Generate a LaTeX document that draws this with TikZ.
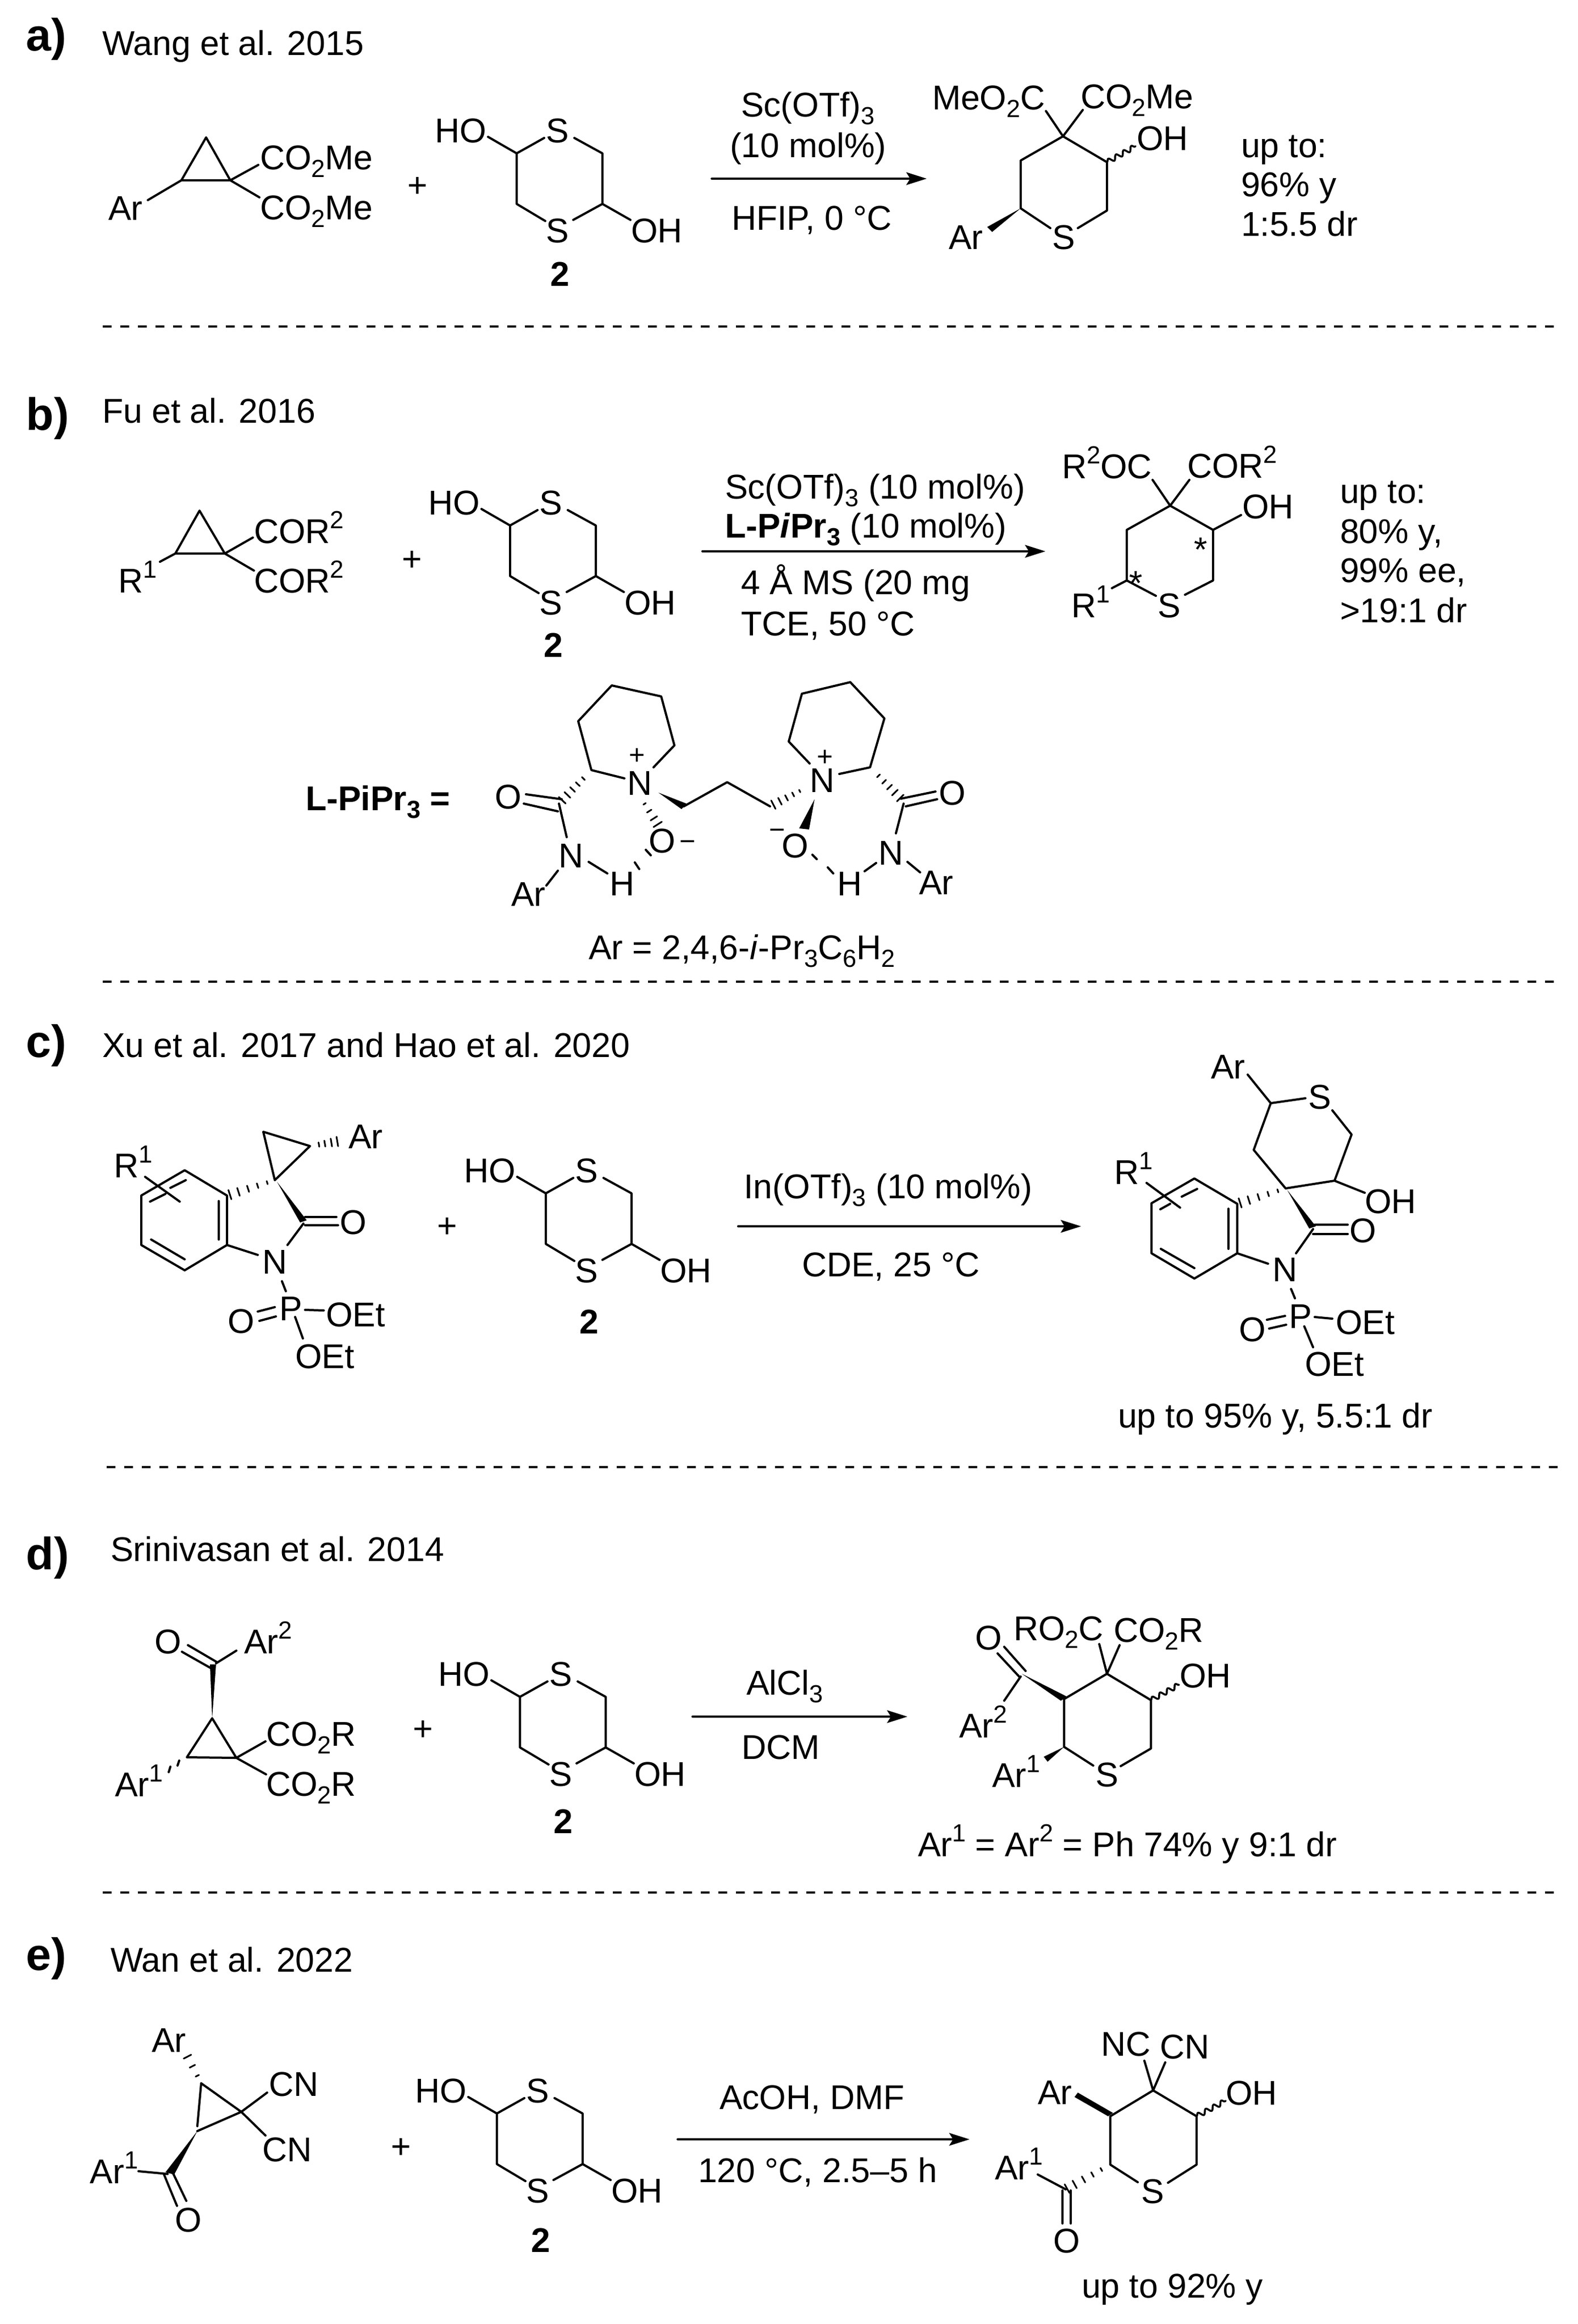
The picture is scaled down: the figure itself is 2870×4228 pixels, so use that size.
\documentclass[tikz,border=0pt]{standalone}
\usepackage{fontspec}
\setmainfont{Liberation Sans}
\usetikzlibrary{calc,arrows.meta,decorations.pathmorphing}
\newcommand{\sbs}[1]{\raisebox{-0.23em}{\fontsize{9}{10}\selectfont #1}}
\newcommand{\sps}[1]{\raisebox{0.42em}{\fontsize{9}{10}\selectfont #1}}
\newcommand{\hashbond}[3]{%
  \foreach \pos in {#3} {
    \pgfmathsetmacro\hw{0.35+1.5*\pos}
    \draw[line width=0.6pt] ($(#1)!\pos!(#2)!\hw pt!90:(#2)$)--($(#1)!\pos!(#2)!\hw pt!-90:(#2)$);
  }}
\tikzset{
  bond/.style={line width=0.8pt},
  atom/.style={inner sep=0pt,outer sep=0pt,anchor=base west,xshift=-0.8pt},
  panel/.style={atom,xshift=0.8pt,font=\fontsize{16.5}{20}\selectfont\bfseries},
  small/.style={inner sep=0pt,outer sep=0pt,anchor=center,font=\fontsize{10}{12}\selectfont},
  rxn/.style={line width=0.8pt,-{Stealth[length=7.4pt,width=4.6pt,inset=1.4pt]}},
  sep/.style={line width=0.8pt,dash pattern=on 3.2pt off 3.2pt,line cap=butt},
  wavy/.style={line width=0.7pt,decorate,decoration={snake,amplitude=0.9pt,segment length=3.2pt}},
  dithiane/.pic={
    \foreach \n/\x/\y in {c1/-77/-46,c2/79/-46,c3/79/46,c4/-77/46,e1/-129/-76,e2/-27/-74,e3/28/-74,e4/-25/77,e5/26/75,e6/130/75}
      \coordinate (\n) at (\x,\y);
    \foreach \n/\x/\y/\lab in {HO/-222/-66/HO,S1/-20/-66/S,S2/-20/116/S,OH/135/116/OH}
      \node[atom] (\n) at (\x,\y) {\lab};
    \draw[bond] (e1)--(c1)--(e2) (e3)--(c2)--(c3)--(e5) (c3)--(e6) (e4)--(c4)--(c1);
  }
}
\begin{document}
\begin{tikzpicture}[x=0.2pt,y=-0.2pt,line join=round,line cap=round,font=\fontsize{12.5}{15}\selectfont]
\useasboundingbox (0,0) rectangle (2870,4228);
\foreach \n/\x/\y in {La/187/594,Ra/2830/594,Lb/187/1786,Rb/2830/1786,Lc/194/2669,Rc/2834/2669,Ld/187/3443,Rd/2830/3443}
  \coordinate (\n) at (\x,\y);
\draw[sep] (La)--(Ra);
\draw[sep] (Lb)--(Rb);
\draw[sep] (Lc)--(Rc);
\draw[sep] (Ld)--(Rd);
\pic (a) at (1017,325) {dithiane};
\pic (b) at (1005,1002) {dithiane};
\pic (c) at (1070,2217) {dithiane};
\pic (d) at (1023,3133) {dithiane};
\pic (e) at (981,3891) {dithiane};
\node[panel] (pa) at (48,92) {a)};
\node[panel] (pb) at (48,782) {b)};
\node[panel] (pc) at (48,1923) {c)};
\node[panel] (pd) at (48,2855) {d)};
\node[panel] (pe) at (48,3584) {e)};
% panel a
\foreach \n/\x/\y/\lab in {aRef/190/100/{Wang et al. 2015},aAr/201/400/Ar,aE1/477/308/{CO\sbs{2}Me},aE2/477/399/{CO\sbs{2}Me},aPlus/745/358/+,aTwo/1005/520/\textbf{2},
  aR1/1352/212/{Sc(OTf)\sbs{3}},aR2/1332/286/{(10 mol\%)},aR3/1335/418/{HFIP,  0 °C},
  aMe/1700/199/{MeO\sbs{2}C},aE3/1970/197/{CO\sbs{2}Me},aOH/2072/273/OH,aS/1918/453/S,aAr2/1730/453/Ar,aY1/2262/286/{up to:},aY2/2262/357/{96\% y},aY3/2262/429/{1:5.5 dr}}
  \node[atom] (\n) at (\x,\y) {\lab};
\foreach \n/\x/\y in {a1/375/250,a2/330/328,a3/419/328,a4/269/364,a5/470/300,a6/472/359,aS0/1295/325,aE0/1686/325,
  p1/1934/248,p2/1857/292,p3/1857/379,p4/2014/295,p5/2014/383,p6/1911/415,p7/1961/415,p8/1903/202,p9/1970/200,p10/2066/266,p11/1796/413,p12/1805/422}
  \coordinate (\n) at (\x,\y);
\draw[bond] (a1)--(a2)--(a3)--cycle (a4)--(a2) (a5)--(a3)--(a6);
\draw[rxn] (aS0)--(aE0);
\draw[bond] (p8)--(p1)--(p9) (p6)--(p3)--(p2)--(p1)--(p4)--(p5)--(p7);
\draw[wavy] (p4)--(p10);
\fill (p3)--(p11)--(p12)--cycle;
% panel b
\foreach \n/\x/\y/\lab in {bRef/190/769/{Fu et al. 2016},bR/219/1078/{R\sps{1}},bE1/466/988/{COR\sps{2}},bE2/466/1078/{COR\sps{2}},bPlus/735/1038/+,bTwo/993/1195/\textbf{2},
  bC1/1323/907/{Sc(OTf)\sbs{3} (10 mol\%)},bC2/1323/978/{\textbf{L-P\textit{i}Pr\sbs{3}} (10 mol\%)},bC3/1352/1081/{4 Å MS (20 mg},bC4/1352/1156/{TCE, 50 °C},
  bOC/1936/870/{R\sps{2}OC},bE3/2164/869/{COR\sps{2}},bOH/2264/943/OH,bS/2110/1123/S,bR2/1953/1123/{R\sps{1}},bSt1/2176/1021/*,bSt2/2058/1082/*,
  bY1/2442/915/{up to:},bY2/2442/988/{80\% y,},bY3/2442/1059/{99\% ee,},bY4/2442/1132/{>19:1 dr},
  bL/560/1474/{\textbf{L-PiPr\sbs{3} =}},lO/904/1471/O,lN1/1145/1446/N,lN2/1020/1578/N,lAr/934/1648/Ar,lH/1113/1629/H,lOm/1184/1551/O,
  mN1/1477/1441/N,mO/1712/1464/O,mN2/1602/1573/N,mH/1527/1629/H,mAr/1676/1627/Ar,mOm/1426/1560/O,bAr/1075/1745/{Ar = 2,4,6-\textit{i}-Pr\sbs{3}C\sbs{6}H\sbs{2}}}
  \node[atom] (\n) at (\x,\y) {\lab};
\node[small] (lPl) at (1159,1376) {+};
\node[small] (mPl) at (1501,1379) {+};
\node[small] (lMi) at (1251,1538) {−};
\node[small] (mMi) at (1414,1517) {−};
\foreach \n/\x/\y in {b1/363/929,b2/319/1007,b3/409/1007,b4/291/1022,b5/460/978,b6/462/1038,bS0/1278/1003,bE0/1902/1003,
  q1/2129/920,q2/2050/964,q3/2050/1056,q4/2207/964,q5/2207/1056,q6/2103/1084,q7/2156/1082,q8/2097/873,q9/2164/873,q10/2258/937,q11/2023/1070,
  l1/1076/1401,l2/1052/1312,l3/1113/1247,l4/1203/1267,l5/1227/1356,l6/1189/1396,l7/1136/1416,l8/1017/1462,l9/957/1445,l10/1022/1454,l11/953/1462,l12/1015/1476,
  l13/1031/1523,l14/1015/1584,l15/994/1611,l16/1071/1568,l17/1105/1589,l18/1170/1458,l19/1198/1502,l20/1198/1442,l21/1240/1472,l22/1249/1462,l23/1244/1467,l24/1323/1423,l25/1401/1467,
  l26/1461/1436,l27/1155/1569,l28/1163/1581,l29/1175/1546,l30/1184/1556,
  m1/1473/1389,m2/1435/1349,m3/1459/1262,m4/1547/1241,m5/1609/1307,m6/1583/1396,m7/1527/1408,m8/1644/1458,m9/1639/1453,m10/1702/1440,m11/1648/1467,m12/1705/1454,
  m13/1644/1462,m14/1630/1516,m15/1594/1570,m16/1573/1585,m17/1651/1568,m18/1674/1587,m19/1482/1454,m20/1454/1507,m21/1472/1509,m22/1478/1555,m23/1486/1563,m24/1506/1578,m25/1516/1589}
  \coordinate (\n) at (\x,\y);
\draw[bond] (b1)--(b2)--(b3)--cycle (b4)--(b2) (b5)--(b3)--(b6);
\draw[rxn] (bS0)--(bE0);
\draw[bond] (q8)--(q1)--(q9) (q6)--(q3)--(q2)--(q1)--(q4)--(q5)--(q7) (q4)--(q10) (q3)--(q11);
\draw[bond] (l6)--(l5)--(l4)--(l3)--(l2)--(l1)--(l7) (l9)--(l10) (l11)--(l12) (l8)--(l13) (l14)--(l15) (l16)--(l17) (l23)--(l24)--(l25);
\draw[bond] (l27)--(l28) (l29)--(l30);
\fill (l20)--(l21)--(l22)--cycle;
\hashbond{l1}{l8}{0.25,0.42,0.58,0.74,0.9}
\hashbond{l18}{l19}{0.1,0.4,0.7,0.95}
\hashbond{l26}{l25}{0.1,0.3,0.5,0.7,0.9}
\draw[bond] (m1)--(m2)--(m3)--(m4)--(m5)--(m6)--(m7) (m9)--(m10) (m11)--(m12) (m13)--(m14) (m15)--(m16) (m17)--(m18) (m22)--(m23) (m24)--(m25);
\fill (m19)--(m20)--(m21)--cycle;
\hashbond{m6}{m8}{0.25,0.42,0.58,0.74,0.9}
% panel c
\foreach \n/\x/\y/\lab in {cRef/190/1923/{Xu et al. 2017 and Hao et al. 2020},cR/211/2142/{R\sps{1}},cAr/638/2089/Ar,cO/622/2245/O,cN/481/2317/N,cP/512/2402/P,cO2/418/2425/O,cE1/597/2413/OEt,cE2/541/2489/OEt,cPlus/799/2251/+,cTwo/1058/2426/\textbf{2},
  cC1/1357/2180/{In(OTf)\sbs{3} (10 mol\%)},cC2/1463/2322/{CDE, 25 °C},
  rR/2031/2154/{R\sps{1}},rAr/2207/1962/Ar,rS/2384/2017/S,rOH/2487/2207/OH,rO/2459/2260/O,rN/2319/2331/N,rP/2349/2416/P,rO2/2258/2440/O,rE1/2434/2427/OEt,rE2/2378/2503/OEt,cY/2038/2597/{up to 95\% y, 5.5:1 dr}}
  \node[atom] (\n) at (\x,\y) {\lab};
\foreach \n/\x/\y in {c1/413/2175,c2/413/2265,c3/336/2311,c4/257/2265,c5/257/2175,c6/336/2129,c7/398/2185,c8/398/2255,c9/275/2255,c10/336/2291,c11/273/2186,c12/301/2172,c13/310/2161,c14/338/2147,
  c15/264/2141,c16/327/2186,c17/500/2147,c18/479/2059,c19/564/2085,c20/618/2076,c21/504/2150,c22/546/2224,c23/558/2220,c24/555/2214,c25/612/2214,c26/555/2229,c27/615/2229,c28/552/2226,c29/523/2265,c30/469/2283,c31/513/2331,c32/520/2349,
  c33/469/2386,c34/500/2378,c35/472/2403,c36/502/2395,c37/555/2383,c38/589/2384,c39/537/2396,c40/551/2435,cS0/1343/2231,cE0/1967/2231,
  r1/2251/2190,r2/2251/2280,r3/2173/2326,r4/2095/2280,r5/2095/2189,r6/2173/2144,r7/2235/2199,r8/2235/2272,r9/2112/2272,r10/2173/2307,r11/2111/2200,r12/2129/2190,r13/2150/2177,r14/2178/2163,
  r15/2086/2152,r16/2147/2197,r17/2339/2162,r18/2281/2092,r19/2312/2007,r20/2375/1998,r21/2424/2020,r22/2459/2064,r23/2428/2148,r24/2270/1955,r25/2483/2170,r26/2342/2165,r27/2382/2235,r28/2394/2231,
  r29/2392/2228,r30/2452/2228,r31/2389/2245,r32/2452/2245,r33/2389/2236,r34/2358/2280,r35/2307/2299,r36/2349/2345,r37/2356/2362,r38/2305/2401,r39/2338/2394,r40/2309/2417,r41/2340/2410,r42/2392/2396,r43/2424/2399,r44/2373/2413,r45/2389/2451}
  \coordinate (\n) at (\x,\y);
\draw[bond] (c1)--(c2)--(c3)--(c4)--(c5)--(c6)--cycle (c7)--(c8) (c9)--(c10) (c11)--(c12) (c13)--(c14) (c15)--(c16) (c17)--(c18)--(c19)--cycle;
\draw[bond] (c24)--(c25) (c26)--(c27) (c28)--(c29) (c2)--(c30) (c31)--(c32) (c33)--(c34) (c35)--(c36) (c37)--(c38) (c39)--(c40);
\fill (c21)--(c22)--(c23)--cycle;
\hashbond{c17}{c1}{0.16,0.36,0.56,0.76,0.94}
\hashbond{c19}{c20}{0.3,0.5,0.72,0.92}
\draw[rxn] (cS0)--(cE0);
\draw[bond] (r1)--(r2)--(r3)--(r4)--(r5)--(r6)--cycle (r7)--(r8) (r9)--(r10) (r11)--(r12) (r13)--(r14) (r15)--(r16);
\draw[bond] (r17)--(r18)--(r19)--(r20) (r21)--(r22)--(r23)--(r17) (r19)--(r24) (r23)--(r25);
\draw[bond] (r29)--(r30) (r31)--(r32) (r33)--(r34) (r2)--(r35) (r36)--(r37) (r38)--(r39) (r40)--(r41) (r42)--(r43) (r44)--(r45);
\fill (r26)--(r27)--(r28)--cycle;
\hashbond{r17}{r1}{0.16,0.36,0.56,0.76,0.94}
% panel d
\foreach \n/\x/\y/\lab in {dRef/205/2840/{Srinivasan et al. 2014},dO/285/3008/O,dAr2/448/3008/{Ar\sps{2}},dE1/488/3176/{CO\sbs{2}R},dE2/488/3267/{CO\sbs{2}R},dAr1/213/3268/{Ar\sps{1}},dPlus/755/3166/+,dTwo/1011/3335/\textbf{2},
  dC1/1362/3083/{AlCl\sbs{3}},dC2/1353/3200/DCM,
  sE1/1848/2984/{RO\sbs{2}C},sE2/2030/2987/{CO\sbs{2}R},sOH/2150/3070/OH,sO/1778/3001/O,sAr2/1749/3161/{Ar\sps{2}},sAr1/1809/3251/{Ar\sps{1}},sS/1997/3250/S,dY/1674/3377/{Ar\sps{1} = Ar\sps{2} = Ph 74\% y 9:1 dr}}
  \node[atom] (\n) at (\x,\y) {\lab};
\foreach \n/\x/\y in {d1/386/3126,d2/340/3197,d3/430/3198,d4/382/3028,d5/393/3028,d6/393/3026,d7/342/2993,d8/395/3024,d9/331/3005,d10/384/3035,d11/430/3003,d12/483/3168,d13/484/3228,d14/326/3203,d15/323/3212,d16/310/3214,d17/307/3224,dS0/1260/3123,dE0/1651/3123,
  s1/2014/3045,s2/1936/3091,s3/1936/3178,s4/2094/3093,s5/2094/3181,s6/1989/3212,s7/2039/3213,s8/2000/2991,s9/2037/2993,s10/2145/3065,s11/1859/3045,s12/1930/3094,s13/1942/3087,s14/1857/3050,s15/1827/2996,s16/1866/3040,s17/1815/3008,s18/1855/3051,s19/1827/3094,s20/1899/3196,s21/1906/3205}
  \coordinate (\n) at (\x,\y);
\draw[bond] (d1)--(d2)--(d3)--cycle (d7)--(d8) (d9)--(d10) (d6)--(d11) (d12)--(d3)--(d13) (d14)--(d15) (d16)--(d17);
\fill (d1)--(d4)--(d5)--cycle;
\draw[rxn] (dS0)--(dE0);
\draw[bond] (s8)--(s1)--(s9) (s6)--(s3)--(s2)--(s1)--(s4)--(s5)--(s7) (s15)--(s16) (s17)--(s18) (s14)--(s19);
\draw[wavy] (s4)--(s10);
\fill (s11)--(s12)--(s13)--cycle;
\fill (s3)--(s20)--(s21)--cycle;
% panel e
\foreach \n/\x/\y/\lab in {eRef/205/3587/{Wan et al. 2022},eAr/280/3733/Ar,eCN1/493/3813/CN,eCN2/481/3932/CN,eAr1/168/3972/{Ar\sps{1}},eO/322/4060/O,ePlus/715/3926/+,eTwo/970/4097/\textbf{2},
  eC1/1313/3837/{AcOH, DMF},eC2/1274/3970/{120 °C, 2.5–5 h},
  tNC/2007/3740/NC,tCN/2114/3745/CN,tOH/2234/3829/OH,tAr/1892/3828/Ar,tAr1/1814/3965/{Ar\sps{1}},tS/2080/4008/S,tO/1920/4098/O,eY/1972/4180/{up to 92\% y}}
  \node[atom] (\n) at (\x,\y) {\lab};
\foreach \n/\x/\y in {e1/366/3790,e2/439/3842,e3/359/3877,e4/359/3868,e5/334/3728,e6/486/3807,e7/483/3885,e8/301/3952,e9/317/3956,e10/305/3955,e11/252/3950,e12/298/3955,e13/322/4013,e14/315/3954,e15/339/4004,eS0/1233/3892,eE0/1764/3892,
  t1/2098/3803,t2/2020/3850,t3/2020/3938,t4/2177/3850,t5/2177/3938,t6/2070/3970,t7/2125/3971,t8/2082/3749,t9/2120/3752,t10/2230/3822,t11/1955/3815,t12/1961/3807,t13/2016/3850,t14/2025/3844,t15/1939/3983,t16/1888/3956,t17/1933/3985,t18/1933/4045,t19/1948/3985,t20/1948/4045}
  \coordinate (\n) at (\x,\y);
\draw[bond] (e1)--(e4) (e3)--(e2)--(e1) (e6)--(e2)--(e7) (e10)--(e11) (e12)--(e13) (e14)--(e15);
\fill (e3)--(e8)--(e9)--cycle;
\hashbond{e1}{e5}{0.22,0.5,0.78}
\draw[rxn] (eS0)--(eE0);
\draw[bond] (t8)--(t1)--(t9) (t6)--(t3)--(t2)--(t1)--(t4)--(t5)--(t7) (t15)--(t16) (t17)--(t18) (t19)--(t20);
\draw[wavy] (t4)--(t10);
\fill (t11)--(t12)--(t14)--(t13)--cycle;
\hashbond{t3}{t15}{0.2,0.4,0.6,0.8,0.97}
\end{tikzpicture}
\end{document}
